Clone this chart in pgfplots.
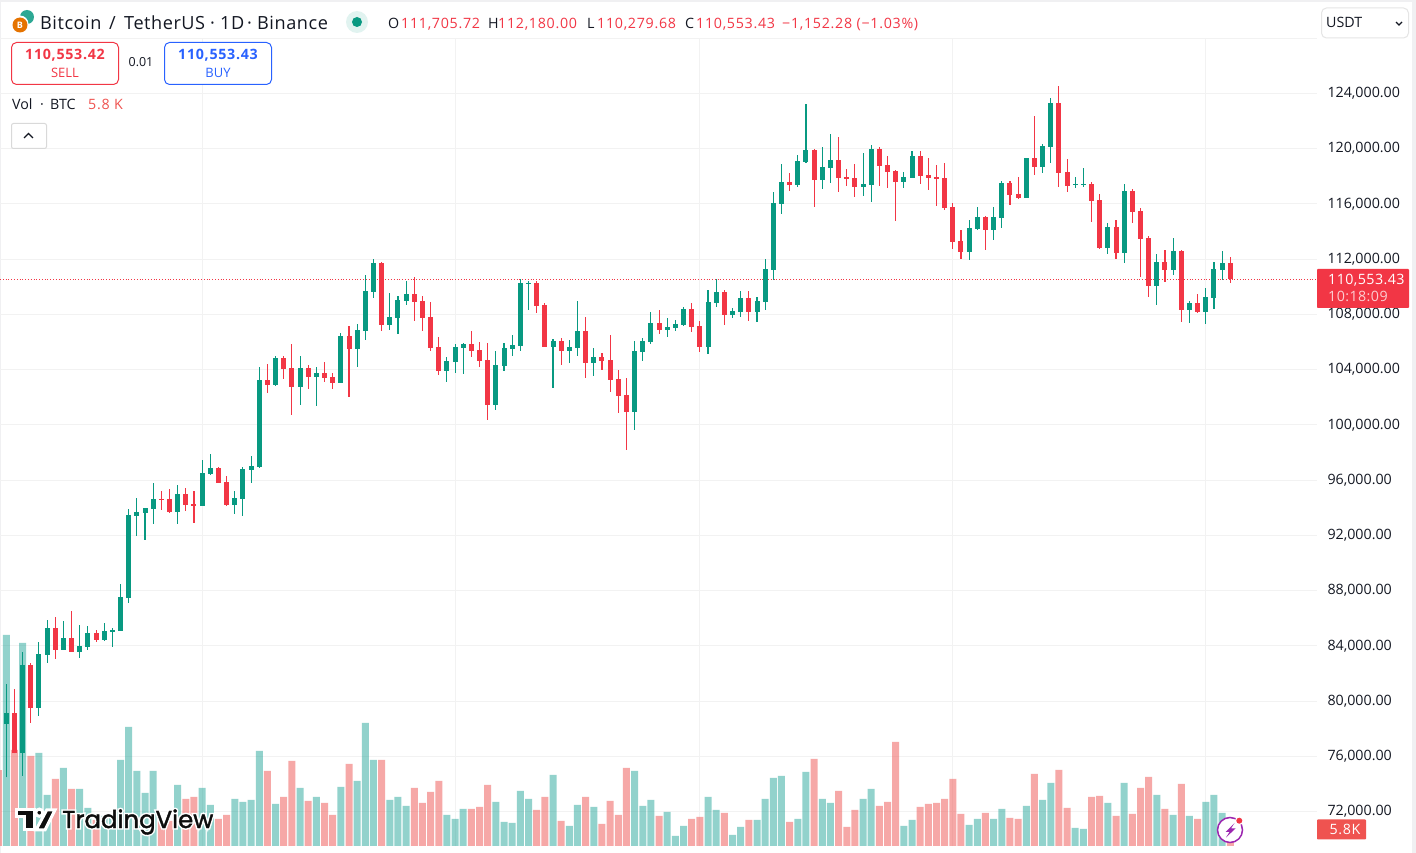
\documentclass[border=0pt]{standalone}
\usepackage{pgfplots}
\pgfplotsset{compat=1.18}
\usepackage{pgfplotstable}
\usepackage{fontspec}
\setmainfont{Open Sans}
\newfontfamily\spaced{Open Sans}[LetterSpace=5]
\newfontfamily\wider{Open Sans}[LetterSpace=3]
\newfontfamily\tvfont{Poppins}[FakeBold=1.6]
\newfontfamily\tvhalo{Poppins}[FakeBold=14]
\definecolor{upc}{HTML}{089981}
\definecolor{dnc}{HTML}{F23645}
\definecolor{volup}{HTML}{26A69A}
\definecolor{voldn}{HTML}{EF5350}
\definecolor{gridc}{HTML}{F2F2F2}
\definecolor{txt}{HTML}{131722}
\definecolor{frame}{HTML}{F0F0F2}
\definecolor{buyc}{HTML}{2962FF}
\definecolor{boltc}{HTML}{9C27B0}

% i open high low close volume
\pgfplotstableread{
i o h l c v
0 78347 81243 74486 79144 73850
2 76248 83559 74583 82618 71050
4 79505 84283 78926 83415 32550
5 83342 85876 82763 85297 17850
7 83704 85803 83704 84573 27300
9 83559 85514 83125 83994 19950
10 83921 85441 83704 84935 13300
12 84428 85659 84355 85080 10500
13 85007 85297 83921 85152 9800
14 85080 88482 85080 87541 30100
15 87468 93911 87106 93477 41650
16 93404 94707 91957 93694 26250
17 93622 93983 91667 93983 18550
18 93911 95793 92825 94635 26250
21 93694 95648 92825 94997 21350
24 94128 97458 94128 96517 20300
25 96445 97893 96372 96879 14350
28 94201 95214 93549 94707 16450
29 94635 96951 93404 96807 15400
30 96734 97748 95793 97024 16100
31 96951 104192 96879 103251 33250
33 102889 104989 102817 104844 14700
36 102745 104989 101442 104120 20300
38 103468 104192 101369 103758 17150
41 103034 106654 103034 106436 20650
43 105495 107305 104192 106871 22750
44 106798 110852 106147 109694 43050
45 109622 112010 109187 111721 30100
47 107233 109549 106871 107812 16100
48 107739 109332 106581 109042 17150
49 108970 110418 108681 109477 14000
54 103903 104916 103107 104627 10850
55 104554 105857 103758 105640 9450
56 105568 105930 103685 105857 12950
60 101441 105350 101079 104337 15400
61 104265 105930 103903 105568 8400
62 105495 106509 104988 105785 8050
63 105712 110562 105350 110273 19250
64 110201 110418 108318 110273 16450
67 105640 106219 102672 106074 24850
69 105350 106147 104482 105640 7000
70 105568 108970 104988 106798 14350
72 104482 105568 103541 104916 13650
77 100935 106074 99632 105350 26250
78 105278 106291 104627 106074 14000
79 106002 108174 105857 107377 16100
81 106871 107739 106364 107088 11900
82 107015 107594 106798 107305 3500
83 107233 108536 107160 108391 7000
86 105640 109766 105133 108898 17150
87 108825 110562 108536 109621 12600
89 107958 108465 107741 108248 3850
90 108175 109696 107813 109189 6650
92 108175 109261 107452 108972 9100
93 108899 112012 108320 111288 16450
94 111216 116862 110492 116066 23800
95 115994 118889 115270 117586 24500
97 117369 119541 117224 119106 9450
98 119034 123233 118962 119903 25900
100 117731 120120 117079 118672 16450
101 118600 121061 117514 119179 15050
105 117224 119685 116573 117441 16450
106 117369 120265 116138 119975 19950
110 117586 118310 117152 117948 7000
111 117876 119830 117876 119468 9100
118 112519 114835 111940 114256 7350
119 114184 115776 114111 115053 9450
121 114111 115776 113388 115053 9450
122 114980 117659 114256 117514 12950
125 116428 119324 116428 119324 14000
127 118672 120337 118238 120192 16100
128 120120 123667 118962 123305 22050
131 117369 117948 117152 117441 6300
132 117369 118600 117224 117441 5950
135 112808 114618 112374 114329 15050
137 112447 117441 111723 116935 22050
141 110058 112374 108682 111795 17850
143 111216 113532 110854 112591 10850
145 108320 108972 107379 108827 10500
147 108176 109913 107307 109261 15400
148 109189 111795 108393 111288 17850
149 111216 112591 110492 111723 11550
}\upbars

\pgfplotstableread{
i o h l c v
1 79144 80881 76224 76224 33600
3 82618 82763 78420 79505 31500
6 85297 86093 83053 83704 23450
8 84573 86527 83559 83559 19950
11 84935 85152 84283 84428 9100
19 94635 95214 93839 94563 8750
20 94635 95359 93622 93694 8750
22 94997 95431 93766 94201 16450
23 94273 95214 92898 94128 17150
26 96879 96951 95793 95793 9450
27 95866 96300 94128 94201 10850
32 103251 104410 102310 102889 26250
34 104844 104989 103324 104048 17150
35 104120 105857 100718 102745 29750
37 104120 104337 102600 103468 15750
39 103758 104554 103107 103396 15050
40 103468 103758 102600 103034 10850
42 106436 107160 102021 105495 28700
46 111721 111793 106798 107233 30100
50 109477 110707 107522 108898 20300
51 108970 109332 106798 107739 15050
52 107812 108898 105351 105568 18900
53 105640 106364 103613 103903 22750
57 105857 106798 104916 105350 12950
58 105423 106002 104192 104627 13650
59 104699 105930 100355 101441 21350
65 110273 110418 108101 108608 12600
66 108680 108825 105640 105640 17150
68 106074 106291 104337 105350 8750
71 106798 107812 103396 104482 17150
73 104916 105206 103975 104627 7700
74 104699 106509 102382 103251 15750
75 103323 103975 100862 102093 10850
76 102165 103396 98184 100935 27300
80 107377 108318 106581 106871 10500
84 108391 108825 106726 107088 9450
85 107160 107522 105278 105640 10150
88 109623 109768 107234 107958 11550
91 109189 109696 107524 108175 9100
96 117586 118238 116935 117369 8400
99 119903 119975 115776 117731 30450
102 119179 120844 116862 117876 19250
103 117948 118527 117297 117803 6650
104 117876 118889 116500 117224 12600
107 119975 120120 117297 118744 14000
108 118817 119468 117152 118310 15400
109 118382 118455 114763 117586 36400
112 119468 119830 117441 118020 13650
113 118093 119323 117007 117876 14700
114 117948 118817 115849 117803 15050
115 117876 118962 115559 115704 16450
116 115776 116066 112736 113243 23450
117 113315 114111 112012 112519 11200
120 115053 115125 112664 114111 11550
123 117514 117659 115921 116645 9800
124 116718 117948 116356 116428 9450
126 119324 122364 118093 118672 25200
129 123305 124536 117224 118238 26600
130 118310 119251 116862 117297 13300
133 117441 117586 114691 116211 17150
134 116283 116718 112736 112808 17500
136 114329 114835 112012 112447 10500
138 116935 117079 114618 115415 11200
139 115487 115704 110709 113460 20300
140 113532 113677 109261 110058 24150
142 111795 112664 110347 111216 12950
144 112591 112664 107452 108320 21700
146 108827 109479 108103 108176 9450
150 111705.72 112180 110279.68 110553.43 5800
}\downbars

\pgfplotsset{
  chartbox/.style={
    at={(0bp,7bp)}, anchor=south west, scale only axis,
    width=1317bp, height=807.95bp,
    xmin=-0.772, xmax=160.63,
  },
  wick/.style={draw=none, no markers, error bars/.cd, y dir=plus, y explicit,
    error mark=none, error bar style={draw=#1, line width=1.1bp}},
  body/.style={draw=none, no markers, error bars/.cd, y dir=plus, y explicit,
    error mark=none, error bar style={draw=#1, line width=5bp}},
}

\begin{document}
\begin{tikzpicture}
\path[use as bounding box, fill=frame] (0,0) rectangle (1416bp,853bp);
\fill[white] (1bp,0bp) rectangle (1412bp,851bp);

% grid and price scale
\begin{axis}[chartbox,
    ymin=69512, ymax=128000,
    axis line style={draw=none}, tick style={draw=none},
    xtick={24,55,85,116,147}, xticklabels={},
    ytick={72000,76000,...,124000}, extra y ticks={128000}, extra y tick labels={},
    xmajorgrids, ymajorgrids, grid style={gridc, line width=1bp},
    yticklabel pos=right, scaled y ticks=false,
    ticklabel style={font=\fontsize{14.3}{14.3}\selectfont, text=txt},
    y tick label style={anchor=west, xshift=7bp, yshift=0bp},
    /pgf/number format/fixed, /pgf/number format/fixed zerofill,
    /pgf/number format/precision=2, /pgf/number format/1000 sep={,},
    /pgf/number format/assume math mode=true,
  ]
\addplot[dnc, line width=0.8bp, dotted] coordinates {(-0.772,110553.43) (160.63,110553.43)};
\end{axis}

% volume
\begin{axis}[chartbox, hide axis, ymin=0, ymax=282783,
    ybar, bar width=7bp, bar shift=0pt]
\addplot[draw=none, fill=volup, fill opacity=0.5] table[x=i, y=v] {\upbars};
\addplot[draw=none, fill=voldn, fill opacity=0.5] table[x=i, y=v] {\downbars};
\addplot[draw=none, fill=voldn, fill opacity=0.5] coordinates {(-1,26600)};
\end{axis}

% candles
\begin{axis}[chartbox, hide axis, ymin=69512, ymax=128000]
\addplot[wick=upc] table[x=i, y=l, y error plus expr=\thisrow{h}-\thisrow{l}] {\upbars};
\addplot[wick=dnc] table[x=i, y=l, y error plus expr=\thisrow{h}-\thisrow{l}] {\downbars};
\addplot[body=upc] table[x=i, y=o, y error plus expr=\thisrow{c}-\thisrow{o}] {\upbars};
\addplot[body=dnc] table[x=i, y=c, y error plus expr=\thisrow{o}-\thisrow{c}] {\downbars};
\end{axis}

% interface overlay, coordinates in image pixels
\begin{scope}[x=1bp, y=-1bp, shift={(0,-853)}]
  \def\ts{\wider\fontsize{18.2}{18.2}\selectfont}
  \def\tm{\fontsize{14.3}{14.3}\selectfont}
  \tikzset{lab/.style={anchor=base west, inner sep=0, text=#1}}
  % symbol icons
  \fill[upc!85!white] (27,17) circle (7);
  \fill[white] (20,24) circle (8.5);
  \fill[orange!90!black] (20,25) circle (7.5);
  \node[white, font=\fontsize{9}{9}\selectfont\bfseries] at (20,25) {B};
  \node[lab=txt, font=\ts] at (40,30) {Bitcoin};
  \node[lab=txt, font=\ts] at (109,30) {/};
  \node[lab=txt, font=\ts] at (124,30) {TetherUS};
  \node[lab=txt, font=\ts] at (210,30) {·};
  \node[lab=txt, font=\ts] at (220,30) {1D};
  \node[lab=txt, font=\ts] at (247,30) {·};
  \node[lab=txt, font=\ts] at (257,30) {Binance};
  \fill[upc!12!white] (357,22) circle (11);
  \fill[upc] (357,22) circle (5);
  % OHLC
  \node[lab=txt, font=\tm] at (388,29) {O};
  \node[lab=dnc, font=\spaced\tm] at (401,29) {111,705.72};
  \node[lab=txt, font=\tm] at (488,29) {H};
  \node[lab=dnc, font=\spaced\tm] at (498,29) {112,180.00};
  \node[lab=txt, font=\tm] at (587,29) {L};
  \node[lab=dnc, font=\spaced\tm] at (597,29) {110,279.68};
  \node[lab=txt, font=\tm] at (685,29) {C};
  \node[lab=dnc, font=\spaced\tm] at (696,29) {110,553.43};
  \node[lab=dnc, font=\spaced\tm] at (782,29) {−1,152.28 (−1.03\%)};
  % sell and buy
  \draw[dnc, line width=1bp, fill=white, rounded corners=5] (11.5,42.5) rectangle (118.5,84.5);
  \node[text=dnc, font=\spaced\tm\bfseries] at (65,55.5) {110,553.42};
  \node[text=dnc, font=\fontsize{13}{13}\selectfont] at (65,72.5) {SELL};
  \node[text=txt, font=\fontsize{12.5}{12.5}\selectfont] at (141,62.5) {0.01};
  \draw[buyc, line width=1bp, fill=white, rounded corners=5] (164.5,42.5) rectangle (271.5,84.5);
  \node[text=buyc, font=\spaced\tm\bfseries] at (218,55.5) {110,553.43};
  \node[text=buyc, font=\fontsize{13}{13}\selectfont] at (218,72.5) {BUY};
  % volume legend
  \node[lab=txt, font=\tm] at (12,110) {Vol};
  \node[lab=txt, font=\tm] at (40,110) {·};
  \node[lab=txt, font=\tm] at (50,110) {BTC};
  \node[lab=voldn, font=\spaced\tm] at (88,110) {5.8};
  \node[lab=voldn, font=\tm] at (114,110) {K};
  \draw[black!15, line width=1bp, fill=white, rounded corners=2] (11.5,123.5) rectangle (46.5,148.5);
  \draw[txt, line width=1.2bp] (24,138) -- (28.5,133.5) -- (33,138);
  % currency selector
  \draw[black!10, line width=1bp, fill=white, rounded corners=5] (1321.5,8) rectangle (1408.5,38);
  \node[lab=txt, font=\tm] at (1326,28) {USDT};
  \draw[txt, line width=1.2bp] (1396,22) -- (1399,25) -- (1402,22);
  % last price and volume tags
  \fill[dnc, rounded corners=1] (1317,269) rectangle (1409,308);
  \node[lab=white, font=\wider\tm] at (1328,285) {110,553.43};
  \node[lab=white!75!dnc, font=\wider\tm] at (1328,302) {10:18:09};
  \fill[voldn, rounded corners=1] (1317,819.5) rectangle (1366,839.5);
  \node[text=white, font=\spaced\tm] at (1345,829.5) {5.8K};
  % lightning badge
  \draw[boltc, line width=1.5bp, fill=white] (1230,830) circle (12.5);
  \fill[boltc] (1234.5,823) -- (1225.5,832) -- (1229.5,832) -- (1226,837.5) -- (1235.5,828.5) -- (1231,828.5) -- cycle;
  \fill[white] (1239.3,820.7) circle (4.4);
  \fill[dnc] (1239.3,820.7) circle (3);
  % TradingView logo
  \node[lab=white, font=\tvhalo\fontsize{24.5}{24.5}\selectfont] at (62,828) {TradingView};
  \begin{scope}[draw=white, line width=3bp, fill=black!95!white]
    \filldraw (16,810) -- (34,810) -- (34,830) -- (24,830) -- (24,817) -- (16,817) -- cycle;
    \filldraw (39.3,812.7) circle (3.6);
    \filldraw (46.7,810) -- (55,810) -- (45,830) -- (36,830) -- cycle;
  \end{scope}
  \node[lab=black!95!white, font=\tvfont\fontsize{24.5}{24.5}\selectfont] at (62,828) {TradingView};
\end{scope}
\end{tikzpicture}
\end{document}
